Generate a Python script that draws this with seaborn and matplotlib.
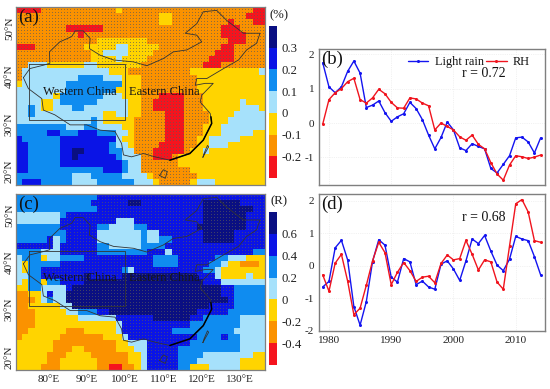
import matplotlib
matplotlib.use("Agg")
import matplotlib.pyplot as plt
import seaborn as sns
import numpy as np

# anomaly classes on a regular grid, "class:end column" runs, north to south
map_a_rows = [
    "0:4 1:16 2:17 1:38 0:40",
    "1:23 2:25 1:37 0:40",
    "1:23 2:25 1:34 0:35 1:38 0:40",
    "1:8 0:14 1:33 0:36 1:40",
    "1:10 0:11 1:33 0:37 1:40",
    "1:13 2:21 1:34 0:37 1:40",
    "0:3 1:11 2:16 3:18 2:23 1:33 0:35 1:40",
    "1:12 2:14 3:18 2:22 1:32 0:35 1:40",
    "1:12 2:16 3:17 2:21 1:31 0:35 1:40",
    "1:2 3:5 2:11 3:13 2:20 1:30 0:33 1:40",
    "1:1 3:15 2:18 1:28 2:39 3:40",
    "1:1 3:10 4:14 3:17 2:20 1:29 2:40",
    "2:1 3:8 4:17 2:20 1:29 2:40",
    "3:8 4:16 2:20 1:29 2:40",
    "3:6 2:7 4:14 3:17 2:20 1:23 0:27 1:30 2:40",
    "3:4 2:6 3:7 4:13 3:18 2:20 1:22 0:27 1:30 2:36 3:37 2:40",
    "3:2 4:3 3:4 2:6 3:9 4:11 3:18 2:20 1:22 0:27 1:30 2:36 3:39 2:40",
    "3:2 4:3 3:14 2:16 3:18 2:20 1:24 0:27 1:31 2:35 3:40",
    "3:12 4:13 3:14 2:19 1:24 0:27 1:31 2:34 3:40",
    "4:8 3:11 4:13 3:17 2:19 1:24 0:27 1:30 2:33 3:40",
    "4:5 5:7 4:10 5:13 4:16 3:18 2:19 1:24 0:27 1:30 2:33 3:38 2:40",
    "5:1 4:7 5:16 3:17 2:19 1:24 0:27 1:29 2:31 3:36 2:40",
    "5:2 4:7 5:15 4:16 3:18 2:19 1:23 0:27 1:29 2:31 3:34 2:40",
    "5:2 4:7 5:9 6:11 5:15 4:17 3:19 1:22 0:27 1:28 2:30 3:31 2:40",
    "5:2 4:7 5:9 6:10 5:16 4:17 3:20 1:22 0:25 1:26 2:40",
    "5:2 4:7 5:17 4:18 3:20 1:26 2:40",
    "5:2 4:14 5:17 4:18 3:20 1:28 2:40",
    "4:9 3:12 4:17 3:21 2:22 1:29 2:40",
    "4:1 5:4 4:9 3:13 4:19 3:22 2:23 1:28 2:29 3:32 2:40",
]
map_c_rows = [
    "4:13 5:40",
    "4:12 5:18 6:20 5:30 6:36 5:40",
    "4:13 5:30 6:38 5:40",
    "3:7 4:8 5:30 6:37 5:40",
    "3:7 5:16 3:19 5:30 6:37 5:40",
    "4:7 5:13 4:15 3:19 4:21 5:29 6:37 5:40",
    "4:8 5:13 3:20 4:21 3:23 5:30 6:35 5:40",
    "4:5 5:6 3:7 4:8 5:13 3:20 4:21 3:23 4:25 5:30 6:35 5:40",
    "5:6 3:7 5:13 4:15 3:20 4:24 5:40",
    "4:4 3:7 5:13 4:21 5:24 3:25 5:38 4:40",
    "3:1 4:4 2:5 3:7 4:11 5:22 4:26 5:32 4:34 3:37 2:40",
    "3:1 2:2 4:7 5:22 4:26 5:31 4:33 3:34 2:36 1:39 2:40",
    "3:1 2:2 4:4 5:17 4:18 3:19 5:30 4:32 3:33 2:40",
    "3:2 4:4 5:11 6:12 5:17 6:29 5:32 3:33 2:37 3:38 2:40",
    "3:1 2:2 4:4 2:5 4:7 5:11 6:30 5:33 3:40",
    "2:2 4:4 3:8 5:9 6:33 5:35 4:40",
    "1:2 2:4 3:5 5:6 3:8 6:33 5:35 4:40",
    "1:3 2:4 3:5 4:6 3:8 6:34 5:35 4:40",
    "1:2 2:7 3:9 6:31 5:35 4:40",
    "1:3 2:8 3:10 4:13 5:15 6:29 5:34 4:40",
    "1:3 2:10 3:16 5:22 6:28 5:30 4:36 3:40",
    "1:3 2:16 3:17 5:28 4:36 3:40",
    "1:2 2:8 1:11 2:16 3:17 5:25 4:35 3:40",
    "1:1 2:7 1:14 2:17 3:18 5:29 4:33 5:34 4:36 3:40",
    "2:6 1:16 2:18 3:21 5:28 4:36 3:40",
    "2:6 1:9 2:11 1:16 2:19 3:21 5:26 4:36 3:40",
    "2:5 1:8 2:12 1:18 2:20 3:21 5:26 4:30 3:38 2:40",
    "2:5 1:7 2:13 1:18 2:20 3:21 5:26 4:29 3:36 2:40",
    "2:4 1:7 2:13 1:15 0:17 1:19 2:20 3:21 5:26 4:28 2:31 3:36 2:40",
]

class_colors = ["#f5141e", "#fb9200", "#ffd400", "#a6e1fb", "#0f8cf0", "#0a14e6", "#0a0f82"]
cbar_a_labels = ["0.3", "0.2", "0.1", "0", "-0.1", "-0.2"]
cbar_c_labels = ["0.6", "0.4", "0.2", "0", "-0.2", "-0.4"]

lon_ticks = [80, 90, 100, 110, 120, 130]
lat_ticks = [20, 30, 40, 50]

# China outline, lon/lat
border_lon = [73.5, 75.2, 78.7, 80.4, 80.3, 83.0, 86.1, 87.0, 89.1, 90.9, 90.7, 93.5, 97.0, 102.2, 105.7,
              110.0, 112.6, 116.1, 120.0, 118.7, 115.7, 118.7, 120.4, 123.9, 126.5, 130.9, 135.2, 134.3,
              131.7, 129.6, 125.7, 121.3, 118.7, 118.3, 120.9, 123.0, 120.0, 119.6, 122.2, 122.6, 120.4,
              116.9, 111.7, 107.8, 104.8, 101.7, 99.6, 99.1, 97.4, 93.5, 90.0, 85.7, 81.7, 78.7, 78.3, 74.8, 73.5]
border_lat = [39.7, 41.6, 42.3, 42.7, 45.1, 47.2, 48.3, 49.5, 49.5, 47.9, 45.8, 44.4, 43.4, 43.0, 42.2,
              43.7, 45.1, 45.5, 47.2, 48.6, 49.0, 51.0, 53.5, 53.8, 51.7, 49.0, 49.0, 46.9,
              45.5, 43.4, 41.6, 39.5, 39.5, 38.1, 38.5, 38.5, 36.0, 34.6, 32.2, 30.1, 26.6,
              23.8, 22.4, 23.1, 23.8, 23.1, 23.5, 25.9, 28.4, 28.7, 29.8, 29.8, 31.9, 32.9, 35.3, 37.4, 39.7]
coast_lon = [122.4, 122.6, 120.4, 116.9, 111.7]
coast_lat = [31.5, 30.1, 26.6, 23.8, 22.4]
hainan_lon = [109.0, 110.5, 111.0, 110.0, 109.0]
hainan_lat = [19.2, 18.6, 20.0, 20.4, 19.2]
taiwan_lon = [120.3, 121.8, 121.5, 120.6, 120.3]
taiwan_lat = [23.0, 25.2, 25.5, 23.8, 23.0]
box_lon = [74.9, 100.0, 100.0, 74.9, 74.9]
box_lat = [42.5, 42.5, 30.8, 30.8, 42.5]

years = np.arange(1979, 2015)
rain_b = [1.75, 1.05, 0.88, 1.05, 1.5, 1.8, 1.45, 0.45, 0.52, 0.64, 0.3, 0.05, 0.18, 0.27, 0.6, 0.42, 0.1, -0.35,
          -0.75, -0.42, 0.03, -0.2, -0.72, -0.8, -0.6, -0.68, -0.75, -1.32, -1.45, -1.2, -0.95, -0.43, -0.41, -0.55, -0.87, -0.43]
rh_b = [-0.03, 0.68, 0.88, 1.0, 1.2, 1.3, 0.68, 0.58, 0.73, 0.98, 0.85, 0.6, 0.44, 0.43, 0.73, 0.7, 0.58, 0.5,
        -0.2, 0.0, -0.1, -0.2, -0.4, -0.5, -0.35, -0.62, -0.75, -1.15, -1.48, -1.66, -1.22, -0.95, -0.98, -1.03, -0.99, -0.93]
rain_d = [-0.65, -0.48, 0.55, 0.78, 0.18, -1.25, -1.82, -1.1, 0.13, 0.8, 0.63, -0.35, -0.5, 0.22, 0.12, -0.58, -0.47, -0.65,
          -0.72, 0.05, 0.15, -0.1, -0.45, 0.15, 0.82, 0.68, 0.93, 0.45, 0.02, -0.15, 0.2, 0.9, 0.82, 0.77, 0.28, -0.28]
rh_d = [-0.28, -0.78, 0.08, 0.35, -0.47, -1.5, -1.3, -0.6, 0.15, 0.72, 0.4, -0.58, -0.2, 0.1, -0.15, -0.48, -0.35, -0.32,
        -0.52, 0.07, 0.33, 0.18, 0.22, 0.78, 0.35, -0.13, 0.18, 0.12, -0.5, -0.72, 0.6, 1.9, 2.03, 1.65, 0.77, 0.72]
year_ticks = [1980, 1990, 2000, 2010]
value_ticks = [-2, -1, 0, 1, 2]

LON0, LON1 = 71.57, 136.5
LAT0, LAT1 = 54.5, 17.2
W, H = 550, 389
FRAME = "#7f7f7f"
TEXT = "#222222"


def decode(rows):
    grid = []
    for row in rows:
        levels, ends = zip(*[r.split(":") for r in row.split()])
        ends = np.array(ends, dtype=int)
        grid.append(np.repeat(np.array(levels, dtype=int), np.diff(ends, prepend=0)))
    return np.array(grid)


def px_axes(fig, x0, y0, x1, y1):
    return fig.add_axes([x0 / W, 1 - y1 / H, (x1 - x0) / W, (y1 - y0) / H])


def lon_x(lon, ncol=40):
    return (np.asarray(lon) - LON0) / (LON1 - LON0) * ncol


def lat_y(lat, nrow=29):
    return (np.asarray(lat) - LAT0) / (LAT1 - LAT0) * nrow


def draw_map(ax, grid, dots, label, show_lon):
    sns.heatmap(grid, ax=ax, cmap=class_colors, vmin=-0.5, vmax=6.5, cbar=False,
                xticklabels=False, yticklabels=False)
    # significance dots, two per cell each way
    rows, cols = np.nonzero(dots)
    dx = np.concatenate([cols + 0.25, cols + 0.75, cols + 0.25, cols + 0.75])
    dy = np.concatenate([rows + 0.25, rows + 0.25, rows + 0.75, rows + 0.75])
    sns.scatterplot(x=dx, y=dy, ax=ax, color="#5a5a5a", s=0.6, linewidth=0, alpha=0.75, legend=False)

    ax.plot(lon_x(border_lon), lat_y(border_lat), color="#333333", lw=0.6)
    ax.plot(lon_x(coast_lon), lat_y(coast_lat), color="black", lw=1.1)
    ax.plot(lon_x(hainan_lon), lat_y(hainan_lat), color="#333333", lw=0.6)
    ax.plot(lon_x(taiwan_lon), lat_y(taiwan_lat), color="#333333", lw=0.6)
    ax.plot(lon_x(box_lon), lat_y(box_lat), color="#333333", lw=0.6)

    ax.set_xlim(0, 40)
    ax.set_ylim(29, 0)
    ax.set_xticks(lon_x(lon_ticks))
    ax.set_yticks(lat_y(lat_ticks))
    ax.set_xticklabels([f"{v}°E" for v in lon_ticks] if show_lon else [], fontsize=8, color=TEXT)
    ax.set_yticklabels([f"{v}°N" for v in lat_ticks], fontsize=8, color=TEXT, rotation=90, va="center")
    ax.tick_params(axis="x", length=2, width=0.5, color=FRAME, pad=1.5)
    ax.tick_params(axis="y", length=1.5, width=0.5, color=FRAME, pad=0)
    for s in ax.spines.values():
        s.set_visible(True)
        s.set_color(FRAME)
        s.set_linewidth(0.9)
    ax.text(lon_x(78.7), lat_y(36.7), "Western China", fontsize=9, color="#151515", va="center")
    ax.text(lon_x(101.0), lat_y(36.7), "Eastern China", fontsize=9, color="#151515", va="center")
    ax.text(lon_x(72.2), lat_y(52.4), label, fontsize=13.5, color="#111111", va="center")


def draw_cbar(fig, y0, y1, labels, title):
    cax = px_axes(fig, 269, y0, 277, y1)
    levels = np.arange(6, -1, -1).reshape(-1, 1)
    sns.heatmap(levels, ax=cax, cmap=class_colors, vmin=-0.5, vmax=6.5, cbar=False, xticklabels=False)
    cax.yaxis.tick_right()
    cax.set_yticks(np.arange(1, 7))
    cax.set_yticklabels(labels, fontsize=9.2, color=TEXT, rotation=0)
    cax.tick_params(length=0, pad=3)
    cax.text(1.2, 1.03, title, transform=cax.transAxes, fontsize=9.2, color=TEXT, ha="center", va="bottom")


def draw_lines(ax, rain, rh, ylim, label, r_text, r_y, show_years):
    sns.lineplot(x=years, y=rain, ax=ax, color="#1414f0", lw=1.0, marker="o", markersize=2.2,
                 markeredgewidth=0, label="Light rain")
    sns.lineplot(x=years, y=rh, ax=ax, color="#f0141e", lw=1.0, marker="o", markersize=2.2,
                 markeredgewidth=0, label="RH")
    ax.set_xlim(1978.4, 2014.7)
    ax.set_ylim(*ylim)
    ax.set_xticks(year_ticks)
    ax.set_xticklabels(year_ticks if show_years else [], fontsize=8, color=TEXT)
    ticks = [v for v in value_ticks if ylim[0] <= v <= ylim[1]]
    ax.set_yticks(ticks)
    ax.set_yticklabels(ticks, fontsize=8, color=TEXT)
    ax.grid(True, color="#e6e6e6", lw=0.5, ls=":")
    ax.tick_params(length=2, width=0.6, color=FRAME, pad=1.5)
    for s in ax.spines.values():
        s.set_visible(True)
        s.set_color(FRAME)
        s.set_linewidth(1.0)
    ax.set_xlabel("")
    ax.set_ylabel("")
    ax.text(1978.7, ylim[1] - 0.06, label, fontsize=13.5, color="#111111", va="top")
    ax.text(2001.3, r_y, r_text, fontsize=10, color="#111111", va="center")


sns.set_theme(style="white")
plt.rcParams["font.family"] = ["Liberation Serif", "DejaVu Serif"]

fig = plt.figure(figsize=(5.5, 3.89), dpi=100, facecolor="white")

grid_a = decode(map_a_rows)
dots_a = grid_a <= 1
dots_a[5:10, 13:23] |= grid_a[5:10, 13:23] == 2
ax_a = px_axes(fig, 16, 7, 265, 185)
draw_map(ax_a, grid_a, dots_a, "(a)", False)
draw_cbar(fig, 26, 178, cbar_a_labels, "(%)")

grid_c = decode(map_c_rows)
ax_c = px_axes(fig, 16, 194, 265, 370)
draw_map(ax_c, grid_c, grid_c >= 5, "(c)", True)
draw_cbar(fig, 212, 365, cbar_c_labels, "(R)")

ax_b = px_axes(fig, 319, 49, 545, 185)
draw_lines(ax_b, rain_b, rh_b, (-1.8, 2.15), "(b)", "r = 0.72", 1.43, False)
ax_b.legend(loc="upper right", frameon=False, ncol=2, fontsize=8.8, handlelength=1.7, handletextpad=0.5,
            columnspacing=0.2, borderaxespad=0, bbox_to_anchor=(0.955, 0.985), labelcolor="#111111")

ax_d = px_axes(fig, 319, 194, 545, 331)
draw_lines(ax_d, rain_d, rh_d, (-2.0, 2.2), "(d)", "r = 0.68", 1.48, True)
ax_d.get_legend().remove()

fig.savefig("out.png", dpi=100)
plt.close()
